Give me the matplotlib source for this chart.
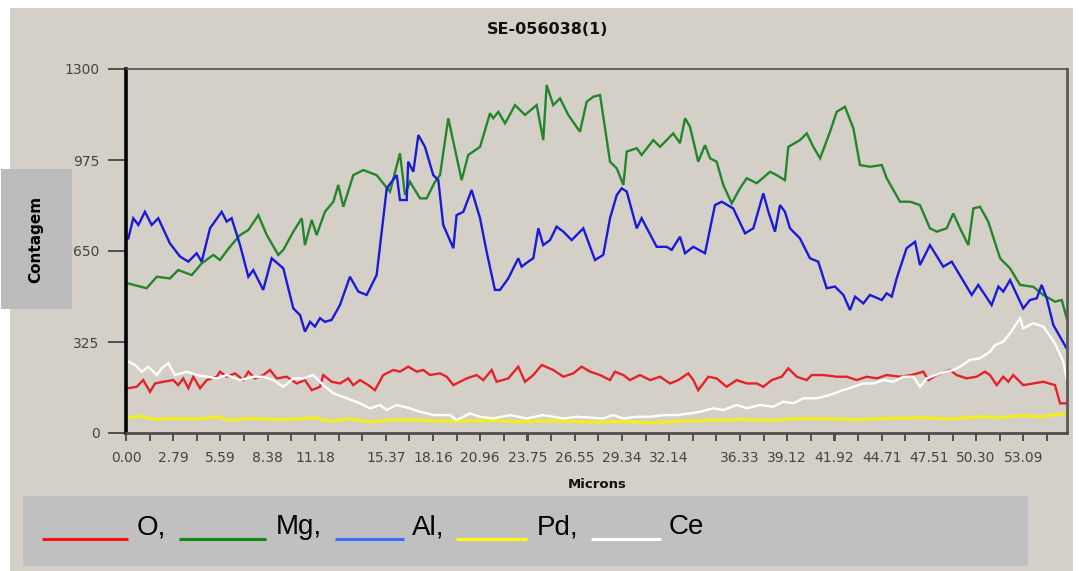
import matplotlib
matplotlib.use("Agg")
import matplotlib.pyplot as plt
from matplotlib.patches import Rectangle
from matplotlib.lines import Line2D
import numpy as np

# ---------------- data ----------------
title = "SE-056038(1)"
x_label = "Microns"
y_label = "Contagem"
y_ticks = [0, 325, 650, 975, 1300]
x_tick_labels = ["0.00", "2.79", "5.59", "8.38", "11.18", "15.37", "18.16", "20.96",
                 "23.75", "26.55", "29.34", "32.14", "36.33", "39.12", "41.92", "44.71",
                 "47.51", "50.30", "53.09"]
series_names = ["O", "Mg", "Al", "Pd", "Ce"]

o_x = [0.14, 0.63, 1.02, 1.42, 1.72, 2.21, 2.80, 3.09, 3.39, 3.69, 3.98, 4.38, 4.78, 5.37,
       5.56, 5.96, 6.45, 6.94, 7.24, 7.63, 8.12, 8.52, 8.92, 9.51, 10.10, 10.59, 10.99,
       11.48, 11.67, 12.17, 12.66, 13.15, 13.45, 13.85, 14.34, 14.73, 15.22, 15.82, 16.21,
       16.70, 17.20, 17.59, 17.99, 18.58, 18.98, 19.37, 20.16, 20.75, 21.14, 21.64, 21.93,
       22.62, 23.21, 23.61, 24.10, 24.60, 25.28, 25.88, 26.47, 26.96, 27.46, 28.05, 28.64,
       28.93, 29.43, 29.82, 30.41, 31.01, 31.60, 32.19, 32.68, 33.27, 33.57, 33.86, 34.46,
       34.95, 35.54, 36.13, 36.73, 37.32, 37.71, 38.21, 38.80, 39.19, 39.69, 40.28, 40.57,
       41.26, 42.05, 42.64, 43.24, 43.83, 44.42, 45.01, 45.80, 46.49, 47.18, 47.48, 47.97,
       48.76, 49.15, 49.74, 50.33, 50.83, 51.12, 51.52, 51.91, 52.21, 52.50, 53.09, 53.69,
       54.28, 54.97, 55.27, 55.66]
o_y = [160, 165, 189, 147, 177, 183, 189, 171, 195, 160, 201, 160, 189, 201,
       219, 201, 213, 189, 219, 195, 207, 225, 195, 201, 177, 189, 153,
       165, 207, 183, 177, 195, 171, 189, 171, 153, 207, 225, 219,
       237, 219, 225, 207, 213, 201, 171, 195, 207, 189, 225, 183,
       195, 237, 183, 207, 243, 225, 201, 213, 237, 219, 207, 189,
       219, 207, 189, 207, 189, 201, 177, 189, 213, 189, 153, 201,
       195, 165, 189, 177, 177, 165, 189, 201, 231, 201, 189, 207,
       207, 201, 201, 189, 201, 195, 207, 201, 207, 219, 189, 207,
       225, 207, 195, 201, 219, 207, 171, 201, 183, 207, 171, 177,
       183, 171, 106, 106]

mg_x = [0.14, 1.22, 1.82, 2.60, 3.09, 3.89, 4.48, 5.17, 5.56, 6.15, 6.75, 7.24, 7.83, 8.33,
        9.01, 9.31, 9.90, 10.40, 10.59, 10.99, 11.28, 11.77, 12.27, 12.56, 12.86, 13.45,
        14.04, 14.83, 15.62, 16.21, 16.51, 16.80, 17.40, 17.79, 18.28, 18.58, 19.07, 19.86,
        20.25, 20.95, 21.54, 21.73, 22.03, 22.43, 23.02, 23.61, 24.30, 24.69, 24.89, 25.28,
        25.68, 26.17, 26.86, 27.26, 27.65, 28.05, 28.64, 29.04, 29.43, 29.63, 30.22, 30.51,
        31.20, 31.60, 32.38, 32.78, 33.08, 33.37, 33.86, 34.26, 34.56, 34.95, 35.34, 35.84,
        36.33, 36.73, 37.32, 38.11, 38.50, 38.99, 39.19, 39.88, 40.28, 40.67, 41.07, 41.66,
        42.05, 42.54, 43.04, 43.43, 44.02, 44.72, 45.01, 45.80, 46.39, 46.98, 47.57, 47.97,
        48.56, 48.95, 49.35, 49.84, 50.14, 50.53, 51.02, 51.72, 52.31, 52.90, 53.69, 54.28,
        54.97, 55.37, 55.66]
mg_y = [534, 517, 558, 552, 582, 564, 606, 636, 618, 665, 707, 725, 778, 707,
        636, 654, 719, 767, 671, 761, 707, 790, 826, 886, 808, 921,
        939, 921, 862, 999, 850, 897, 838, 838, 897, 921, 1124, 903,
        993, 1022, 1142, 1124, 1147, 1106, 1171, 1136, 1171, 1046, 1243, 1171,
        1195, 1136, 1076, 1183, 1201, 1207, 969, 945, 886, 1005, 1017, 993,
        1046, 1022, 1070, 1035, 1124, 1094, 969, 1028, 981, 969, 886, 820,
        874, 910, 892, 933, 921, 903, 1022, 1046, 1070, 1022, 981, 1076,
        1147, 1165, 1088, 957, 951, 957, 910, 826, 826, 814, 731, 719,
        731, 784, 731, 671, 802, 808, 755, 624, 588, 529, 522, 493,
        469, 475, 410]

al_x = [0.14, 0.43, 0.73, 1.12, 1.52, 1.91, 2.60, 3.20, 3.69, 4.18, 4.48, 4.97, 5.66, 5.96,
        6.25, 6.75, 7.24, 7.53, 8.12, 8.62, 9.31, 9.90, 10.30, 10.59, 10.89, 11.18, 11.48,
        11.77, 12.17, 12.66, 13.25, 13.75, 14.24, 14.83, 15.43, 16.02, 16.21, 16.61, 16.70,
        17.00, 17.30, 17.69, 18.18, 18.48, 18.77, 19.37, 19.56, 19.96, 20.45, 20.95, 21.34,
        21.83, 22.13, 22.62, 23.21, 23.41, 23.80, 24.10, 24.40, 24.69, 25.09, 25.48, 25.88,
        26.37, 27.06, 27.75, 28.24, 28.64, 29.04, 29.33, 29.63, 30.22, 30.51, 31.40, 31.99,
        32.29, 32.78, 33.08, 33.57, 34.26, 34.85, 35.25, 35.93, 36.63, 37.12, 37.71, 38.01,
        38.40, 38.70, 38.99, 39.29, 39.88, 40.47, 40.96, 41.46, 41.95, 42.45, 42.84, 43.14,
        43.63, 44.02, 44.72, 45.01, 45.31, 45.60, 46.19, 46.69, 46.98, 47.57, 48.36, 48.86,
        50.04, 50.43, 51.22, 51.62, 51.91, 52.31, 53.09, 53.49, 53.89, 54.18, 54.48, 54.87,
        55.66]
al_y = [695, 767, 743, 790, 743, 767, 677, 630, 612, 642, 612, 731, 790, 755,
        767, 671, 558, 582, 511, 624, 588, 445, 421, 362, 397, 380, 410,
        397, 404, 457, 558, 505, 493, 564, 874, 921, 832, 832, 969,
        933, 1064, 1022, 921, 903, 743, 660, 778, 790, 868, 767, 647,
        511, 511, 552, 624, 594, 612, 624, 731, 671, 689, 737, 719,
        689, 731, 618, 636, 767, 850, 874, 862, 731, 767, 665, 665,
        654, 701, 642, 665, 642, 814, 826, 802, 713, 731, 856, 790,
        719, 814, 790, 731, 695, 624, 612, 517, 523, 493, 439, 487,
        463, 493, 475, 499, 487, 552, 660, 683, 600, 671, 594, 612,
        493, 529, 457, 523, 505, 546, 445, 475, 481, 529, 481, 386,
        302]

pd_x = [0.12, 0.83, 1.72, 2.90, 4.38, 5.27, 6.15, 7.34, 9.11, 10.30, 11.18, 12.07, 13.25,
        14.44, 16.21, 17.99, 19.76, 21.54, 23.31, 25.09, 26.86, 28.05, 29.23, 31.01, 32.78,
        34.56, 36.33, 38.11, 39.88, 41.66, 43.43, 45.21, 46.98, 48.76, 50.53, 51.72, 52.90,
        54.08, 54.97, 55.62]
pd_y = [55, 60, 48, 52, 50, 58, 45, 52, 48, 50, 55, 42, 50,
        40, 48, 44, 42, 45, 40, 44, 40, 38, 42, 36, 42,
        45, 48, 45, 52, 50, 48, 52, 55, 50, 58, 55, 62,
        58, 65, 70]

ce_x = [0.14, 0.53, 0.93, 1.32, 1.82, 2.11, 2.50, 2.90, 3.59, 4.18, 4.78, 5.37, 5.96, 6.75,
        7.53, 8.12, 8.72, 9.31, 9.90, 10.49, 11.08, 11.67, 12.27, 13.06, 13.85, 14.44, 15.03,
        15.43, 16.02, 16.80, 17.40, 18.18, 19.17, 19.56, 20.36, 20.95, 21.73, 22.72, 23.71,
        24.69, 25.88, 26.67, 27.46, 28.24, 28.82, 29.43, 30.22, 31.01, 31.79, 32.59, 33.37,
        33.96, 34.75, 35.34, 36.14, 36.73, 37.51, 38.30, 38.89, 39.49, 40.08, 40.87, 41.66,
        42.44, 43.04, 43.63, 44.22, 44.81, 45.40, 46.00, 46.59, 46.98, 47.38, 48.17, 48.95,
        49.35, 49.94, 50.53, 51.12, 51.42, 51.91, 52.31, 52.90, 53.09, 53.69, 54.28, 54.97,
        55.46, 55.66]
ce_y = [255, 243, 219, 237, 207, 231, 249, 207, 219, 207, 201, 195, 207, 189,
        201, 201, 189, 165, 195, 195, 207, 171, 142, 124, 106, 88, 100,
        82, 100, 88, 76, 64, 64, 46, 70, 58, 52, 64, 52,
        64, 52, 58, 55, 52, 64, 52, 58, 58, 64, 64, 70,
        76, 88, 82, 100, 88, 100, 94, 112, 106, 124, 124, 136,
        153, 165, 177, 177, 189, 183, 201, 201, 165, 195, 213, 225,
        237, 261, 267, 290, 314, 326, 356, 410, 374, 392, 380, 320,
        255, 195]

# ---------------- styles ----------------
BG = "#d4d0c8"
plot_colors = ["#e4222a", "#23862a", "#1a1ad8", "#eeee22", "#ffffff"]
legend_colors = ["#ff1010", "#118a11", "#3a6cff", "#ffff10", "#ffffff"]
line_widths = [1.7, 1.7, 1.7, 2.4, 1.7]
W, H = 1079, 571

fig = plt.figure(figsize=(W / 100, H / 100), dpi=100, facecolor="white")

def fx(px):
    return px / W

def fy(py):
    return 1 - py / H

# gray panel background (behind everything)
fig.patches.append(Rectangle((fx(10), 0), fx(1073) - fx(10), fy(8), transform=fig.transFigure,
                             facecolor=BG, edgecolor="none", zorder=-5))

ax = fig.add_axes([fx(126), fy(433), fx(1067) - fx(126), fy(69) - fy(433)])
ax.set_zorder(2)
ax.set_facecolor(BG)

xs = [o_x, mg_x, al_x, pd_x, ce_x]
ys = [o_y, mg_y, al_y, pd_y, ce_y]
for xv, yv, c, lw in zip(xs, ys, plot_colors, line_widths):
    ax.plot(xv, yv, color=c, lw=lw, solid_joinstyle="miter", clip_on=False)

ax.set_xlim(0, 55.68)
ax.set_ylim(0, 1300)
ax.set_yticks(y_ticks)
ax.set_yticklabels([str(v) for v in y_ticks])
ax.set_xticks([float(s) for s in x_tick_labels])
ax.set_xticklabels(x_tick_labels)
ax.set_xticks(np.arange(0, 55.2, 1.3975), minor=True)

ax.tick_params(axis="y", length=13, width=1.4, color="#505050", pad=6,
               labelsize=10, labelcolor="#444444")
ax.tick_params(axis="x", which="both", length=6, width=1.4, color="#505050", pad=7,
               labelsize=10, labelcolor="#444444")
for lab in ax.get_xticklabels() + ax.get_yticklabels():
    lab.set_family("DejaVu Sans")

ax.spines["left"].set_color("black")
ax.spines["left"].set_linewidth(2.6)
ax.spines["bottom"].set_color("#4d4d4d")
ax.spines["bottom"].set_linewidth(2.0)
ax.spines["top"].set_color("#505050")
ax.spines["top"].set_linewidth(1.2)
ax.spines["right"].set_color("#5a5a5a")
ax.spines["right"].set_linewidth(2.0)

# title and axis labels
fig.text(fx(548), fy(30), title, ha="center", va="center", fontsize=11.5,
         fontweight="bold", family="DejaVu Sans", color="#111111")
fig.text(fx(597), fy(485), x_label, ha="center", va="center", fontsize=9.5,
         fontweight="bold", family="DejaVu Sans", color="#111111")

fig.patches.append(Rectangle((fx(1), fy(309)), fx(72) - fx(1), fy(169) - fy(309),
                             transform=fig.transFigure, facecolor="#bcbcbc",
                             edgecolor="none", zorder=1))
fig.text(fx(36), fy(239), y_label, rotation=90, ha="center", va="center", fontsize=11,
         fontweight="bold", family="DejaVu Sans", color="black", zorder=2)

# legend box
fig.patches.append(Rectangle((fx(23), fy(566)), fx(1028) - fx(23), fy(496) - fy(566),
                             transform=fig.transFigure, facecolor="#c0c0c0",
                             edgecolor="none", zorder=1))
seg_px = [(42, 128), (179, 266), (335, 404), (456, 527), (591, 661)]
txt_px = [137, 276, 412, 537, 669]
for i, name in enumerate(series_names):
    x0, x1 = seg_px[i]
    fig.add_artist(Line2D([fx(x0), fx(x1)], [fy(539), fy(539)], transform=fig.transFigure,
                          color=legend_colors[i], lw=2.2, solid_capstyle="butt", zorder=3))
    label = name + ("," if i < len(series_names) - 1 else "")
    fig.text(fx(txt_px[i]), fy(534), label, ha="left", va="baseline", fontsize=20,
             family="Liberation Sans", color="black", zorder=3)

fig.savefig("out.png", dpi=100, facecolor=fig.get_facecolor())
